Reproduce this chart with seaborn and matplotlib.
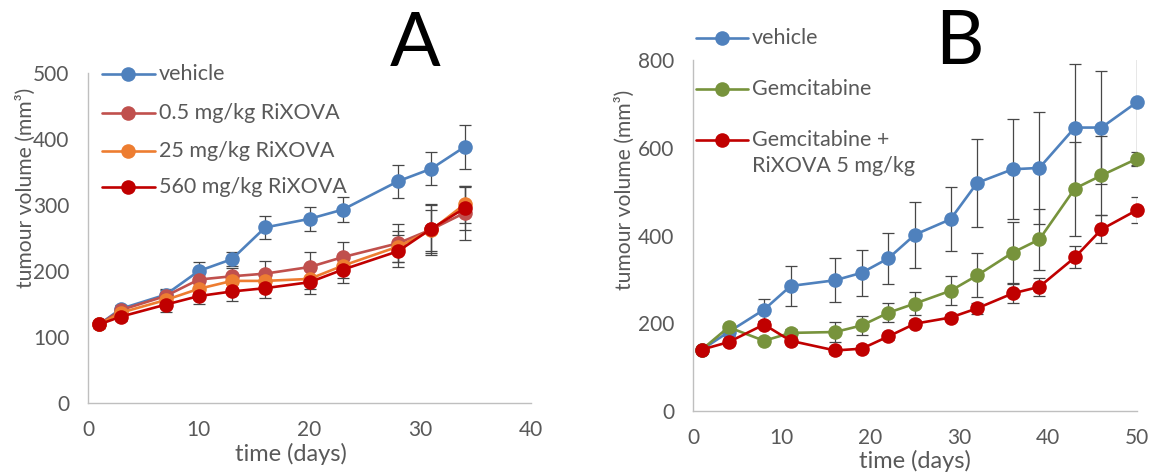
import numpy as np
import pandas as pd
import matplotlib
matplotlib.use("Agg")
import matplotlib.pyplot as plt
from matplotlib.lines import Line2D
import seaborn as sns

# ---------------- data ----------------
days_A = [1, 3, 7, 10, 13, 16, 20, 23, 28, 31, 34]
vehicle_A = [119, 143, 164, 200, 218, 266, 279, 293, 336, 355, 388]
vehicle_A_err = [5, 6, 8, 13, 11, 17, 18, 19, 25, 25, 33]
rix05 = [119, 141, 162, 187, 192, 196, 206, 221, 242, 263, 288]
rix05_err = [5, 6, 9, 12, 12, 19, 23, 23, 29, 38, 41]
rix25 = [119, 137, 156, 173, 185, 185, 188, 208, 237, 262, 301]
rix25_err = [5, 6, 8, 10, 11, 14, 16, 18, 24, 31, 28]
rix560 = [119, 131, 149, 162, 169, 174, 183, 202, 230, 264, 295]
rix560_err = [5, 6, 11, 12, 14, 15, 18, 20, 24, 36, 33]
labels_A = ["vehicle", "0.5 mg/kg RiXOVA", "25 mg/kg RiXOVA", "560 mg/kg RiXOVA"]

days_B = [1, 4, 8, 11, 16, 19, 22, 25, 29, 32, 36, 39, 43, 46, 50]
vehicle_B = [140, 180, 231, 285, 298, 315, 348, 402, 437, 520, 551, 554, 646, 646, 704]
vehicle_B_err = [5, 8, 25, 46, 50, 53, 58, 75, 73, 100, 114, 128, 145, 129, 146]
gem = [140, 191, 160, 178, 180, 195, 224, 245, 274, 309, 361, 391, 507, 537, 575]
gem_err = [5, 8, 8, 8, 22, 21, 22, 26, 33, 50, 70, 69, 107, 90, 15]
gem_rix = [140, 157, 197, 160, 138, 142, 170, 199, 213, 234, 268, 283, 350, 414, 458]
gem_rix_err = [5, 6, 8, 8, 8, 8, 8, 8, 8, 12, 22, 20, 25, 32, 30]
labels_B = ["vehicle", "Gemcitabine", "Gemcitabine +", "RiXOVA 5 mg/kg"]

xticks_A = [0, 10, 20, 30, 40]
yticks_A = [0, 100, 200, 300, 400, 500]
xticks_B = [0, 10, 20, 30, 40, 50]
yticks_B = [0, 200, 400, 600, 800]

# ---------------- style ----------------
sns.set_style("white")
plt.rcParams["font.family"] = ["Lato", "DejaVu Sans"]
TXT = "#595959"
AXC = "#BFBFBF"
ERRC = "#474747"
colors_A = ["#4F81BD", "#C0504D", "#ED7D31", "#C00000"]
colors_B = ["#4F81BD", "#77933C", "#C00000"]

W, H = 1157, 475
fig = plt.figure(figsize=(W / 100, H / 100), dpi=100)


def fx(px):
    return px / W


def fy(py):
    return 1 - py / H


axA = fig.add_axes([fx(88), fy(403), fx(531) - fx(88), fy(73) - fy(403)])
axB = fig.add_axes([fx(693), fy(411), fx(1137) - fx(693), fy(60) - fy(411)])

MS = 10.5
LW = 1.9


def draw(ax, x, ys, errs, cols):
    for y, e in zip(ys, errs):
        ax.errorbar(x, y, yerr=e, fmt="none", ecolor=ERRC, elinewidth=0.9,
                    capsize=4.3, capthick=0.9, zorder=2)
    n_before = len(ax.get_lines())
    for y, c in zip(ys, cols):
        sns.lineplot(x=x, y=y, ax=ax, color=c, marker="o", markersize=MS,
                     markeredgewidth=0, linewidth=LW, zorder=3, legend=False,
                     errorbar=None)
    for ln in ax.get_lines()[n_before:]:
        ln.set_clip_on(False)


draw(axA, days_A, [vehicle_A, rix05, rix25, rix560],
     [vehicle_A_err, rix05_err, rix25_err, rix560_err], colors_A)
draw(axB, days_B, [vehicle_B, gem, gem_rix],
     [vehicle_B_err, gem_err, gem_rix_err], colors_B)


def style(ax, xt, yt):
    ax.set_xlim(xt[0], xt[-1])
    ax.set_ylim(yt[0], yt[-1])
    ax.set_xticks(xt)
    ax.set_yticks(yt)
    for s in ["top", "right"]:
        ax.spines[s].set_visible(False)
    for s in ["left", "bottom"]:
        ax.spines[s].set_color(AXC)
        ax.spines[s].set_linewidth(1.0)
    ax.tick_params(axis="both", direction="out", length=5.5, width=1.0,
                   color=AXC, labelcolor=TXT, labelsize=15, pad=7)
    ax.tick_params(axis="y", pad=8)
    ax.set_xlabel("time (days)", fontsize=17, color=TXT)
    ax.set_ylabel("tumour volume (mm³)", fontsize=15.2, color=TXT)
    ax.patch.set_alpha(0)


style(axA, xticks_A, yticks_A)
style(axB, xticks_B, yticks_B)
axA.xaxis.set_label_coords((291 - 88) / 443, -(443 - 403) / 330)
axA.yaxis.set_label_coords(-(88 - 36) / 443, (403 - 188) / 330)
axB.xaxis.set_label_coords(0.5, -(450 - 411) / 351)
axB.yaxis.set_label_coords(-(693 - 635) / 444, (411 - 190) / 351)

# panel letters
fig.text(fx(415), fy(44), "A", fontsize=54, ha="center", va="center", color="black")
fig.text(fx(959), fy(43), "B", fontsize=54, ha="center", va="center", color="black")


# legends (drawn manually to mimic the reference layout)
def legend_entry(x0, x1, xm, xt, py, color, label, handle=True):
    if handle:
        fig.add_artist(Line2D([fx(x0), fx(x1)], [fy(py), fy(py)], color=color,
                              linewidth=LW, transform=fig.transFigure))
        fig.add_artist(Line2D([fx(xm)], [fy(py)], color=color, marker="o",
                              markersize=MS, markeredgewidth=0,
                              transform=fig.transFigure))
    fig.text(fx(xt), fy(py), label, fontsize=15.5, color=TXT, ha="left", va="center")


for py, c, lab in zip([74, 113, 151, 187], colors_A, labels_A):
    legend_entry(102, 155, 128, 159, py, c, lab)

for py, c, lab in zip([38, 89, 140], colors_B, labels_B[:3]):
    legend_entry(696, 748, 722, 752, py, c, lab)
legend_entry(696, 748, 722, 752, 166, "none", labels_B[3], handle=False)

fig.savefig("out.png", dpi=100)
